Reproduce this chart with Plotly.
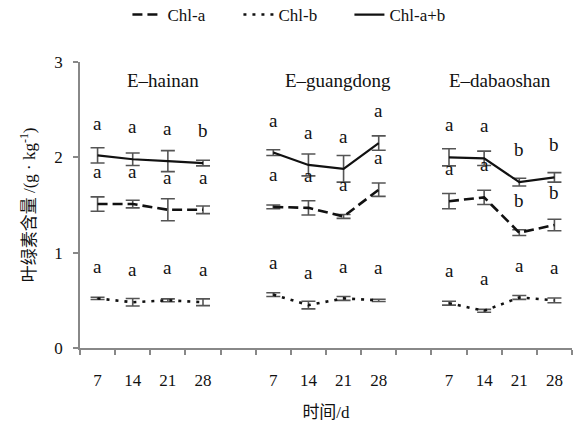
import plotly.graph_objects as go

# ---- data ----
groups = ["E-hainan", "E-guangdong", "E-dabaoshan"]
days = ["7", "14", "21", "28"]

chl_a = [[1.51, 1.51, 1.45, 1.45],
         [1.48, 1.47, 1.38, 1.66],
         [1.54, 1.58, 1.21, 1.29]]
chl_a_err = [[0.075, 0.04, 0.115, 0.04],
             [0.02, 0.075, 0.02, 0.07],
             [0.08, 0.075, 0.03, 0.06]]
chl_b = [[0.52, 0.48, 0.50, 0.48],
         [0.56, 0.45, 0.52, 0.50],
         [0.47, 0.39, 0.53, 0.50]]
chl_b_err = [[0.012, 0.04, 0.015, 0.035],
             [0.02, 0.04, 0.02, 0.012],
             [0.02, 0.015, 0.02, 0.025]]
chl_ab = [[2.02, 1.98, 1.96, 1.94],
          [2.05, 1.92, 1.88, 2.15],
          [2.00, 1.99, 1.74, 1.79]]
chl_ab_err = [[0.08, 0.065, 0.11, 0.03],
              [0.03, 0.115, 0.14, 0.075],
              [0.09, 0.075, 0.04, 0.05]]

letters_a = [["a", "a", "a", "a"], ["a", "a", "a", "a"], ["a", "a", "b", "b"]]
letters_b = [["a", "a", "a", "a"], ["a", "a", "a", "a"], ["a", "a", "a", "a"]]
letters_ab = [["a", "a", "a", "b"], ["a", "a", "a", "a"], ["a", "a", "b", "b"]]

series_names = ["Chl-a", "Chl-b", "Chl-a+b"]

# ---- styling ----
FONT = "Liberation Serif, Times New Roman, Noto Sans CJK SC, serif"
LINE_COL = "#111111"
ERR_COL = "#555555"
AX_COL = "#888888"
styles = {
    "Chl-a": dict(dash="10px,5px", width=2.6),
    "Chl-b": dict(dash="3px,6px", width=2.6),
    "Chl-a+b": dict(dash="solid", width=2.2),
}
GAP = 5  # category slots per group (4 days + 1 blank)
LABEL_OFFSET = 0.34
title_dx = [0.35, 0.35, -0.05]

fig = go.Figure()
series = [(series_names[0], chl_a, chl_a_err, letters_a),
          (series_names[1], chl_b, chl_b_err, letters_b),
          (series_names[2], chl_ab, chl_ab_err, letters_ab)]

for gi, g in enumerate(groups):
    xs = [gi * GAP + i for i in range(len(days))]
    for name, vals, errs, lets in series:
        st = styles[name]
        fig.add_trace(go.Scatter(
            x=xs, y=vals[gi], mode="lines", name=name,
            legendgroup=name, showlegend=(gi == 0),
            line=dict(color=LINE_COL, width=st["width"], dash=st["dash"]),
            error_y=dict(type="data", array=errs[gi], color=ERR_COL,
                         thickness=1.6, width=7),
        ))
        for xi, v, l in zip(xs, vals[gi], lets[gi]):
            fig.add_annotation(x=xi, y=v + LABEL_OFFSET, text=l, showarrow=False,
                               font=dict(family=FONT, size=19, color="#111"))
    fig.add_annotation(x=gi * GAP + 1.5 + title_dx[gi], y=2.81,
                       text=g.replace("-", "–"),
                       showarrow=False, font=dict(family=FONT, size=19, color="#111"))

tickvals, ticktext = [], []
for gi in range(len(groups)):
    for i, d in enumerate(days):
        tickvals.append(gi * GAP + i)
        ticktext.append(d)
nslots = GAP * len(groups) - 1

fig.update_layout(
    width=574, height=429,
    margin=dict(l=80, r=2, t=62, b=81),
    paper_bgcolor="white", plot_bgcolor="white",
    font=dict(family=FONT, size=17, color="#111"),
    showlegend=True,
    legend=dict(orientation="h", xref="container", yref="container",
                x=0.222, xanchor="left", y=0.965, yanchor="middle",
                entrywidth=66, entrywidthmode="pixels",
                font=dict(family=FONT, size=17), traceorder="normal"),
    xaxis=dict(range=[-0.5, nslots - 0.5], tickmode="array", tickvals=tickvals,
               ticktext=ticktext, ticks="", ticklabelstandoff=16, automargin=False,
               showline=True, linecolor=AX_COL, linewidth=1.5, showgrid=False,
               zeroline=False, tickfont=dict(size=17),
               minor=dict(tickmode="array", tickvals=[k - 0.5 for k in range(nslots + 1)],
                          ticks="outside", ticklen=5, tickcolor=AX_COL, tickwidth=1.5),
               title=dict(text="时间/d", standoff=17, font=dict(size=17))),
    yaxis=dict(range=[0, 3], dtick=1, ticks="outside", ticklen=5, tickcolor=AX_COL,
               tickwidth=1.5, showline=True, linecolor=AX_COL, linewidth=1.5,
               ticklabelstandoff=7,
               showgrid=False, zeroline=False, automargin=False, tickfont=dict(size=17)),
)
fig.add_annotation(xref="paper", yref="paper", x=-0.105, y=0.5, xanchor="center",
                   yanchor="middle",
                   text="叶绿素含量 /(g · kg<sup>-1</sup>)", textangle=-90,
                   showarrow=False, font=dict(family=FONT, size=17, color="#111"))

fig.write_html("out.html", config={"displayModeBar": False},
               post_script="document.body.style.margin='0';")
